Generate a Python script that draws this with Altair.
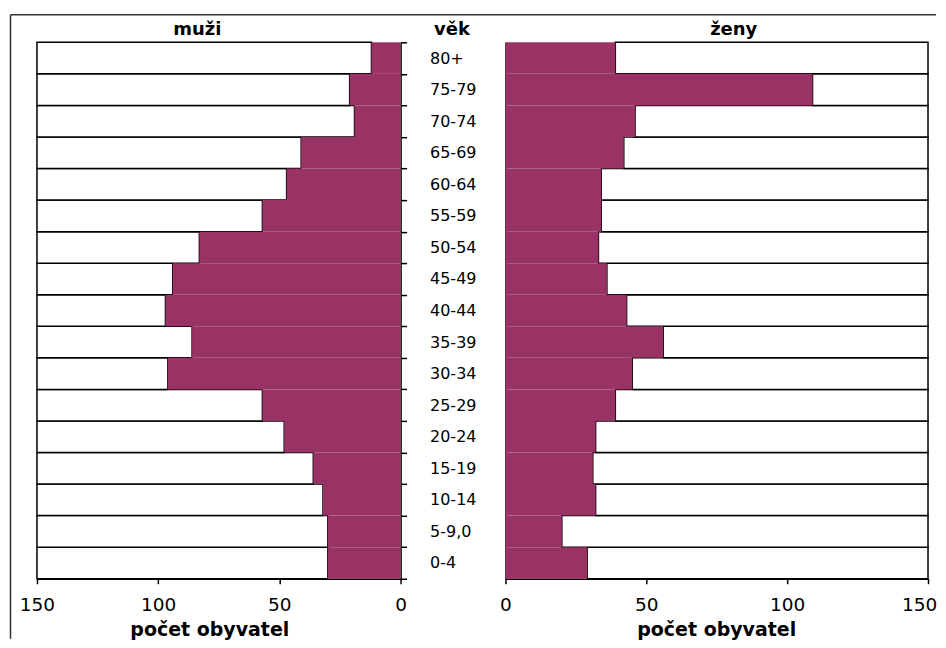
import altair as alt
import pandas as pd

# ---- data ----
ages = ["0-4", "5-9,0", "10-14", "15-19", "20-24", "25-29", "30-34", "35-39",
        "40-44", "45-49", "50-54", "55-59", "60-64", "65-69", "70-74", "75-79", "80+"]
men = [30, 30, 32, 36, 48, 57, 96, 86, 97, 94, 83, 57, 47, 41, 19, 21, 12]
women = [29, 20, 32, 31, 32, 39, 45, 56, 43, 36, 33, 34, 34, 42, 46, 109, 39]
axis_max = 150
tick_values = [0, 50, 100, 150]

df = pd.DataFrame({"age": ages, "men": men, "women": women,
                   "full": [axis_max] * len(ages)})
order = ages[::-1]

FONT = "DejaVu Sans"
PURPLE = "#993366"
W_LEFT, W_RIGHT, H = 364, 423, 537


def x_axis(title_x, last_offset=0):
    return alt.Axis(values=tick_values, title="počet obyvatel", grid=False,
                    domainColor="black", domainWidth=1.5,
                    tickColor="black", tickWidth=1.5, tickSize=5,
                    labelFont=FONT, labelFontSize=18.5, labelColor="black",
                    labelBaseline="alphabetic", labelPadding=27, labelFlush=False,
                    labelOffset={"condition": {"test": f"datum.value === {axis_max}",
                                               "value": last_offset},
                                 "value": 0},
                    titleFont=FONT, titleFontSize=19, titleFontWeight="bold",
                    titleColor="black", titleX=title_x, titleY=57,
                    titleAlign="center", titleBaseline="alphabetic")


def top_axis(title, title_x):
    return alt.Axis(orient="top", title=title, labels=False, ticks=False,
                    domain=False, grid=False,
                    titleFont=FONT, titleFontSize=18, titleFontWeight="bold",
                    titleColor="black", titleX=title_x, titleY=-8,
                    titleAlign="center", titleBaseline="alphabetic")


band = alt.Scale(paddingInner=0, paddingOuter=0)

# ---------------- left (men) ----------------
y_left = alt.Y("age:N", sort=order, scale=band,
               axis=alt.Axis(orient="right", title="věk", titleAngle=0,
                             titleX=51, titleY=-8, titleAlign="center",
                             titleBaseline="alphabetic", titleFont=FONT,
                             titleFontSize=18, titleFontWeight="bold",
                             titleColor="black",
                             labelFont=FONT, labelFontSize=16, labelColor="black",
                             labelAlign="left", labelPadding=23,
                             tickBand="extent", tickSize=6, tickColor="black",
                             tickWidth=1.5, domainColor="black", domainWidth=1.5,
                             grid=False))
x_left_scale = alt.Scale(domain=[0, axis_max], reverse=True, nice=False)

one = alt.Data(values=[{}])
frame_top = alt.Chart(one).mark_rule(color="#333333", strokeWidth=1.5).encode(
    x=alt.value(-26.5), x2=alt.value(900), y=alt.value(-27.5))
frame_left = alt.Chart(one).mark_rule(color="#333333", strokeWidth=1.5).encode(
    x=alt.value(-26.5), y=alt.value(-27.5), y2=alt.value(H + 60))

left_white = alt.Chart(df).mark_bar(fill="white", stroke="black", strokeWidth=1.5).encode(
    x=alt.X("men:Q", scale=x_left_scale, axis=x_axis(172.5)),
    x2="full:Q",
    y=y_left,
)
left_purple = alt.Chart(df).mark_bar(fill=PURPLE, strokeWidth=0).encode(
    x=alt.X("men:Q", scale=x_left_scale, axis=top_axis("muži", 160)),
    y=alt.Y("age:N", sort=order, scale=band),
)

left = alt.layer(frame_top, frame_left, left_white, left_purple).resolve_axis(
    x="independent").properties(width=W_LEFT, height=H)

# ---------------- right (women) ----------------
x_right_scale = alt.Scale(domain=[0, axis_max], nice=False)
y_right = alt.Y("age:N", sort=order, scale=band,
                axis=alt.Axis(orient="left", title=None, labels=False, ticks=False,
                              domainColor="black", domainWidth=1.5, grid=False))

right_white = alt.Chart(df).mark_bar(fill="white", stroke="black", strokeWidth=1.5).encode(
    x=alt.X("women:Q", scale=x_right_scale, axis=x_axis(211, last_offset=-9)),
    x2="full:Q",
    y=y_right,
)
right_purple = alt.Chart(df).mark_bar(fill=PURPLE, strokeWidth=0).encode(
    x=alt.X("women:Q", scale=x_right_scale, axis=top_axis("ženy", 228)),
    y=alt.Y("age:N", sort=order, scale=band),
)

right = alt.layer(right_white, right_purple).resolve_axis(
    x="independent").properties(width=W_RIGHT, height=H)

chart = alt.hconcat(left, right, spacing=105, bounds="flush").properties(
    padding={"left": 1, "top": 5, "right": 0, "bottom": 0},
    background="white",
).configure_view(stroke="transparent")

chart.save("out.html", embed_options={"renderer": "svg", "actions": False})
